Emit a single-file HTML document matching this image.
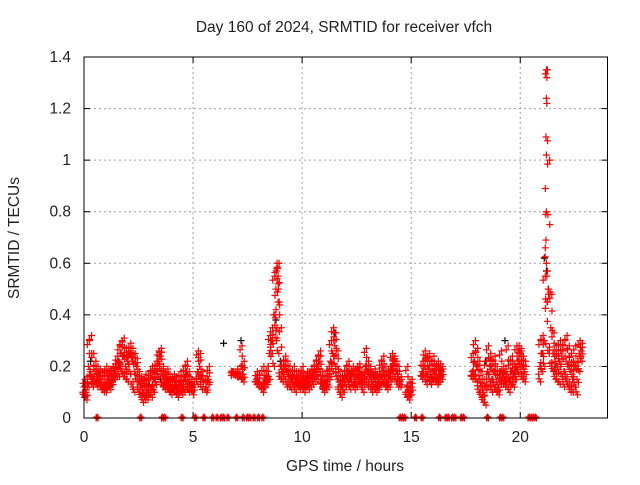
<!DOCTYPE html>
<html><head><meta charset="utf-8"><style>
body{margin:0;background:#fff}
svg text{font-family:"Liberation Sans",sans-serif;font-size:15.5px;fill:#222}
</style></head><body>
<svg id="chart" width="640" height="480" viewBox="0 0 640 480" xmlns="http://www.w3.org/2000/svg">
<rect width="640" height="480" fill="#fff"/>
<text x="344" y="32" text-anchor="middle">Day 160 of 2024, SRMTID for receiver vfch</text>
<text x="345" y="471" text-anchor="middle">GPS time / hours</text>
<text transform="translate(19,238) rotate(-90)" text-anchor="middle">SRMTID / TECUs</text>
<g id="grid"></g>
<g id="ticks"></g>
<g id="marks"></g>
<rect x="84" y="57" width="523.5" height="361" fill="none" stroke="#000" stroke-width="1"/>
</svg>
<script>
const xTicks=[0,5,10,15,20];
const yTicks=[0,0.2,0.4,0.6,0.8,1,1.2,1.4];
const yTickLabels=["0","0.2","0.4","0.6","0.8","1","1.2","1.4"];
const times=[0,0.1,0.2,0.3,0.4,0.5,0.6,0.7,0.8,0.9,1.0,1.1,1.2,1.3,1.4,1.5,1.6,1.7,1.8,1.9,2.0,2.1,2.2,2.3,2.4,2.5,2.6,2.7,2.8,2.9,3.0,3.1,3.2,3.3,3.4,3.5,3.6,3.7,3.8,3.9,4.0,4.1,4.2,4.3,4.4,4.5,4.6,4.7,4.8,4.9,5.0,5.2,5.3,5.4,5.6,5.7,6.8,7.0,7.2,7.3,7.9,8.0,8.2,8.3,8.4,8.5,8.6,8.7,8.8,8.9,9.0,9.1,9.2,9.3,9.4,9.5,9.6,9.7,9.8,9.9,10.0,10.1,10.2,10.3,10.4,10.5,10.6,10.7,10.8,10.9,11.0,11.1,11.2,11.3,11.4,11.5,11.6,11.7,11.8,11.9,12.0,12.1,12.2,12.3,12.4,12.5,12.6,12.7,12.8,12.9,13.0,13.1,13.2,13.3,13.4,13.5,13.6,13.7,13.8,13.9,14.0,14.1,14.2,14.3,14.4,14.5,14.8,14.9,15.0,15.5,15.6,15.7,15.8,15.9,16.0,16.1,16.2,16.3,16.4,17.8,17.9,18.0,18.1,18.2,18.3,18.4,18.5,18.6,18.7,18.8,18.9,19.0,19.1,19.2,19.3,19.4,19.5,19.6,19.7,19.8,19.9,20.0,20.1,20.2,20.9,21.0,21.1,21.2,21.3,21.4,21.5,21.6,21.7,21.8,21.9,22.0,22.1,22.2,22.3,22.4,22.5,22.6,22.7,22.8];
const valsA=[.12,.10,.20,.18,.15,.18,.15,.16,.14,.12,.13,.15,.14,.16,.18,.20,.22,.25,.24,.20,.22,.25,.22,.18,.20,.14,.12,.10,.12,.10,.13,.12,.15,.18,.22,.24,.16,.14,.15,.13,.12,.15,.13,.11,.14,.12,.16,.18,.14,.13,.12,.18,.20,.15,.12,.15,.18,.17,.20,.17,.15,.14,.13,.15,.16,.25,.30,.40,.50,.45,.20,.18,.20,.18,.16,.15,.16,.14,.15,.14,.15,.13,.15,.14,.16,.17,.18,.20,.22,.15,.13,.14,.16,.22,.25,.28,.20,.14,.12,.15,.16,.18,.15,.17,.14,.16,.18,.15,.14,.20,.18,.16,.14,.15,.13,.14,.17,.18,.15,.14,.16,.20,.22,.18,.16,.14,.12,.10,.12,.18,.20,.17,.19,.16,.18,.17,.15,.17,.18,.18,.22,.20,.15,.12,.10,.12,.18,.20,.15,.18,.14,.12,.18,.16,.15,.17,.14,.18,.16,.20,.22,.25,.20,.18,.20,.25,.30,.80,.50,.35,.25,.22,.20,.22,.24,.18,.22,.20,.18,.15,.20,.15,.25,.26];
const valsB=[.15,.14,.30,.32,.25,.22,.20,.19,.18,.18,.20,.19,.18,.20,.21,.24,.28,.30,.31,.27,.26,.29,.27,.25,.23,.18,.16,.15,.17,.15,.18,.20,.19,.22,.26,.27,.20,.18,.19,.17,.16,.17,.16,.14,.18,.16,.20,.22,.18,.15,.14,.26,.25,.18,.16,.20,.18,.19,.28,.22,.18,.17,.20,.18,.20,.32,.35,.55,.58,.60,.35,.22,.24,.22,.20,.18,.20,.18,.18,.17,.20,.16,.18,.17,.19,.20,.22,.24,.26,.18,.16,.18,.20,.30,.35,.33,.26,.18,.16,.18,.20,.22,.18,.20,.19,.20,.21,.18,.17,.27,.22,.20,.18,.19,.17,.18,.22,.24,.20,.18,.20,.25,.24,.22,.20,.16,.20,.14,.15,.22,.26,.24,.25,.22,.24,.20,.22,.21,.20,.25,.30,.27,.22,.18,.15,.22,.28,.25,.22,.24,.20,.18,.26,.20,.19,.28,.22,.24,.21,.28,.28,.27,.24,.22,.30,.32,.55,1.35,1.0,.48,.33,.28,.26,.30,.28,.30,.32,.28,.25,.22,.28,.22,.30,.29];
const valsC=[.08,.07,.12,.15,.12,.14,.12,.13,.11,.10,.10,.12,.11,.13,.15,.16,.16,.18,.16,.15,.14,.17,.12,.10,.14,.10,.08,.06,.07,.07,.09,.08,.10,.13,.16,.18,.12,.11,.12,.10,.09,.10,.10,.08,.10,.09,.10,.11,.10,.11,.09,.13,.15,.11,.10,.13,.17,.16,.15,.14,.13,.12,.10,.12,.13,.15,.25,.20,.30,.25,.15,.14,.15,.12,.12,.11,.12,.10,.12,.11,.12,.10,.12,.11,.12,.13,.14,.15,.18,.12,.10,.11,.12,.16,.18,.20,.15,.10,.08,.10,.12,.14,.11,.13,.11,.12,.14,.12,.10,.15,.12,.12,.10,.11,.10,.11,.13,.14,.12,.11,.12,.15,.16,.14,.12,.12,.08,.07,.09,.15,.16,.13,.15,.13,.14,.14,.13,.14,.15,.15,.15,.14,.10,.08,.06,.05,.12,.14,.10,.12,.10,.09,.13,.13,.12,.12,.10,.13,.12,.15,.17,.20,.15,.14,.14,.18,.20,.45,.25,.20,.18,.15,.14,.13,.16,.12,.14,.12,.10,.10,.12,.09,.18,.22];
const spikeTimes=[8.75,8.8,8.82,8.85,8.88,8.9,8.92,8.95,8.97,8.8,8.85,8.9,21.15,21.18,21.2,21.22,21.2,21.22,21.18,21.2,21.15,21.17,21.2,21.25,21.22,21.28,21.3,21.25];
const spikeVals=[.36,.42,.57,.60,.58,.55,.50,.45,.40,.34,.31,.52,.66,.69,1.35,1.32,1.24,1.22,1.09,1.02,.89,.79,.60,.57,.55,.50,.48,.45];
const blackTimes=[0.3,1.6,3.5,6.4,7.2,8.8,9.0,11.5,13.0,18.4,19.3,21.2,21.1,21.6];
const blackVals=[.22,.20,.15,.29,.30,.38,.22,.33,.18,.22,.30,.57,.62,.20];
const zeroTimes=[0.6,2.6,3.6,3.7,4.5,5.1,5.5,5.9,6.1,6.3,6.4,6.6,7.0,7.3,7.5,7.6,7.8,8.0,8.2,14.5,14.6,14.7,15.2,15.5,16.3,16.6,16.7,16.9,17.0,17.3,17.4,18.5,19.1,19.2,20.4,20.5,20.6,20.7];
const NS="http://www.w3.org/2000/svg";
const X0=84,X1=607.5,Y0=418,Y1=57;
const xs=t=>X0+t/24*(X1-X0);
const ys=v=>Y0-v/1.4*(Y0-Y1);
function mk(tag,at,parent){const e=document.createElementNS(NS,tag);for(const k in at)e.setAttribute(k,at[k]);parent.appendChild(e);return e;}
const grid=document.getElementById('grid'),ticks=document.getElementById('ticks'),marks=document.getElementById('marks');
xTicks.forEach(t=>{
  const x=xs(t);
  if(t>0){const g=mk('line',{x1:x,y1:Y1,x2:x,y2:Y0,stroke:'#a0a0a0','stroke-dasharray':'2,3'},grid);
  
  }
  const a=mk('line',{x1:x,y1:Y0,x2:x,y2:Y0-6,stroke:'#000'},ticks);
  
  
  const b=mk('line',{x1:x,y1:Y1,x2:x,y2:Y1+6,stroke:'#000'},ticks);
  
  
  const l=mk('text',{x:x,y:Y0+24,'text-anchor':'middle'},ticks);l.textContent=String(t);
  
  
});
yTicks.forEach((v,i)=>{
  const y=ys(v);
  if(v>0&&v<1.4){const g=mk('line',{x1:X0,y1:y,x2:X1,y2:y,stroke:'#a0a0a0','stroke-dasharray':'2,3'},grid);
  
  }
  const a=mk('line',{x1:X0,y1:y,x2:X0+6,y2:y,stroke:'#000'},ticks);
  
  
  const b=mk('line',{x1:X1,y1:y,x2:X1-6,y2:y,stroke:'#000'},ticks);
  
  
  const l=mk('text',{x:X0-13,y:y+5,'text-anchor':'end'},ticks);l.textContent=yTickLabels[i];
  
  
});
function cross(t,v,col,dx,dy){
  const x=xs(t)+(dx||0),y=ys(v)+(dy||0);
  const p=mk('path',{d:`M${x-3.5},${y}h7M${x},${y-3.5}v7`,stroke:col,'stroke-width':1.2,fill:'none'},marks);
  
  
}
blackTimes.forEach((t,i)=>cross(t,blackVals[i],'#000'));
times.forEach((t,i)=>{
  cross(t,valsA[i],'#f00');cross(t,valsA[i],'#f00',1.5,3);
  cross(t,valsB[i],'#f00',1);cross(t,valsB[i],'#f00',-1,4);
  cross(t,valsC[i],'#f00',0.7);cross(t,valsC[i],'#f00',-0.8,-3);
  cross(t,(valsA[i]+valsB[i])/2,'#f00',1.2);cross(t,(valsA[i]+valsC[i])/2,'#f00',-1.2);
});
spikeTimes.forEach((t,i)=>cross(t,spikeVals[i],'#f00'));
zeroTimes.forEach(t=>{cross(t,0,'#f00',-1);cross(t,0,'#f00',1);cross(t,0,'#f00',0,-1);});
</script>
</body></html>
